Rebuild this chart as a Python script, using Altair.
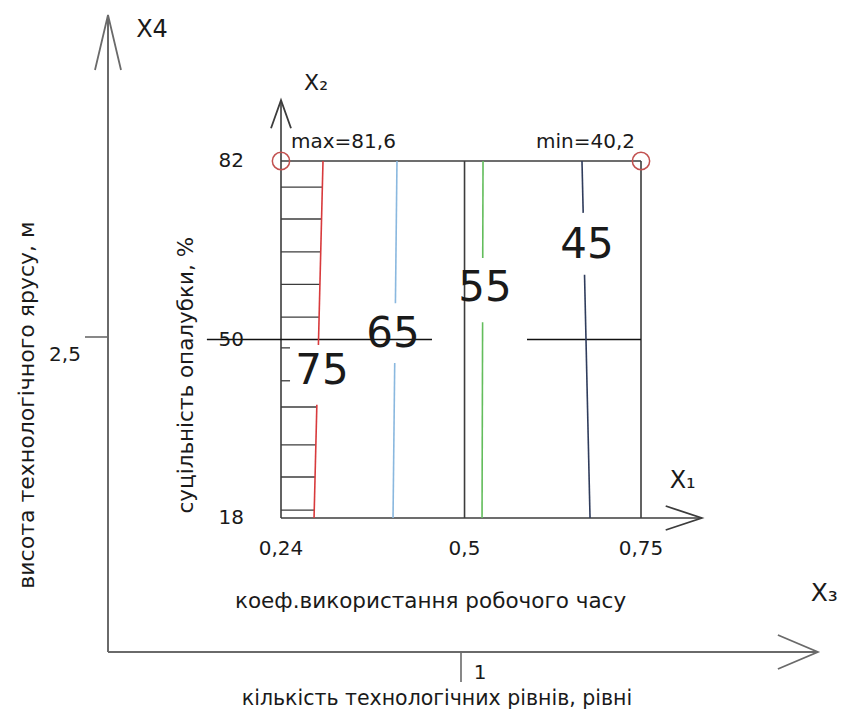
import altair as alt
import pandas as pd

# ---------------- values ----------------
# inner diagram: X1 - коеф. використання робочого часу, X2 - суцільність опалубки, %
x1_ticks = [0.24, 0.5, 0.75]
x1_tick_labels = ["0,24", "0,5", "0,75"]
x2_ticks = [18, 50, 82]
x2_tick_labels = ["18", "50", "82"]
x1_arrow_tip = 0.836
x2_arrow_tip = 92.9

levels = ["75", "65", "55", "45"]
level_colors = ["#d83a3c", "#8ab8df", "#63bd5c", "#2f3c5c"]
c_x1_bottom = [0.2868, 0.3987, 0.5248, 0.6778]   # at X2 = 18
c_x2_gap_lo = [38.3, 45.8, 53.1, 61.6]
c_x1_gap_lo = [0.2908, 0.4011, 0.5256, 0.6700]
c_x2_gap_hi = [49.0, 56.5, 64.6, 72.7]
c_x1_gap_hi = [0.2930, 0.4021, 0.5258, 0.6681]
c_x1_top = [0.2995, 0.4043, 0.5262, 0.6664]      # at X2 = 82
c_label_x1 = [0.2981, 0.3987, 0.5290, 0.6735]
c_label_x2 = [44.4, 51.0, 59.2, 66.9]

hatch_x2 = [77.3, 71.6, 65.7, 59.9, 54.0, 48.5, 42.6, 37.9, 31.1, 25.35, 19.4]
hatch_x1_end = [0.2986, 0.2974, 0.2963, 0.2951, 0.2939, 0.2528, 0.2528,
                0.2907, 0.2894, 0.2883, 0.2871]

level50_x1_from = [0.135, 0.5885]
level50_x1_to = [0.4539, 0.75]

extreme_x1 = [0.24, 0.75]
extreme_x2 = [82, 82]
extreme_labels = ["max=81,6", "min=40,2"]

inner_title_x = "коеф.використання робочого часу"
inner_title_y = "суцільність опалубки, %"

# outer axes: X3 - кількість технологічних рівнів, X4 - висота технологічного ярусу, м
x3_tick = 1
x3_tick_label = "1"
x4_tick = 2.5
x4_tick_label = "2,5"
x3_arrow_tip = 2.011
x4_arrow_tip = 5.056
outer_title_x = "кількість технологічних рівнів, рівні"
outer_title_y = "висота технологічного ярусу, м"

# ---------------- scales ----------------
FONT = "DejaVu Sans"
TXT = "#1a1a1a"
LINE = "#3c3c3c"
AX = "#6a6a6a"

in_x = alt.Scale(domain=[-0.14675, 1.03333], nice=False, zero=False)
in_y = alt.Scale(domain=[-16.60, 109.43], nice=False, zero=False)
out_x = alt.Scale(domain=[-0.28329, 2.07649], nice=False, zero=False)
out_y = alt.Scale(domain=[-0.46825, 5.1111], nice=False, zero=False)


def enc(sx, sy, x="x", y="y", x2=None, y2=None):
    e = dict(x=alt.X(f"{x}:Q", scale=sx, axis=None),
             y=alt.Y(f"{y}:Q", scale=sy, axis=None))
    if x2:
        e["x2"] = alt.X2(x2)
    if y2:
        e["y2"] = alt.Y2(y2)
    return e


def texts(df, sx, sy, **mk):
    base = dict(font=FONT, color=TXT, baseline="middle")
    base.update(mk)
    return alt.Chart(df).mark_text(**base).encode(text="t:N", **enc(sx, sy))


def arrow(x, y, sx, sy, length, half, angle, col):
    h = 2 * half / length
    path = f"M{-h:.3f},2L0,0L{h:.3f},2"
    return alt.Chart(pd.DataFrame({"x": [x], "y": [y]})).mark_point(
        shape=path, filled=False, size=length ** 2, angle=angle,
        color=col, strokeWidth=1.8, opacity=1
    ).encode(**enc(sx, sy))


# ---------------- inner diagram ----------------
frame = pd.DataFrame({
    "x": [x1_ticks[0], x1_ticks[0], x1_ticks[0], x1_ticks[2], x1_ticks[1]],
    "x2": [x1_ticks[0], x1_arrow_tip, x1_ticks[2], x1_ticks[2], x1_ticks[1]],
    "y": [x2_ticks[0], x2_ticks[0], x2_ticks[2], x2_ticks[0], x2_ticks[0]],
    "y2": [x2_arrow_tip, x2_ticks[0], x2_ticks[2], x2_ticks[2], x2_ticks[2]],
})
frame_l = alt.Chart(frame).mark_rule(color=LINE, strokeWidth=1.6).encode(
    **enc(in_x, in_y, x2="x2", y2="y2"))

mid = pd.DataFrame({"x": level50_x1_from, "x2": level50_x1_to,
                    "y": [x2_ticks[1]] * 2, "y2": [x2_ticks[1]] * 2})
mid_l = alt.Chart(mid).mark_rule(color="#111111", strokeWidth=1.6).encode(
    **enc(in_x, in_y, x2="x2", y2="y2"))

hatch = pd.DataFrame({"x": [x1_ticks[0]] * len(hatch_x2), "x2": hatch_x1_end,
                      "y": hatch_x2, "y2": hatch_x2})
hatch_l = alt.Chart(hatch).mark_rule(color=LINE, strokeWidth=1.3).encode(
    **enc(in_x, in_y, x2="x2", y2="y2"))

rows = []
for i, lv in enumerate(levels):
    rows.append(dict(level=lv, x=c_x1_bottom[i], y=x2_ticks[0], x2=c_x1_gap_lo[i], y2=c_x2_gap_lo[i]))
    rows.append(dict(level=lv, x=c_x1_gap_hi[i], y=c_x2_gap_hi[i], x2=c_x1_top[i], y2=x2_ticks[2]))
cont = pd.DataFrame(rows)
cont_l = alt.Chart(cont).mark_rule(strokeWidth=1.6).encode(
    color=alt.Color("level:N", scale=alt.Scale(domain=levels, range=level_colors), legend=None),
    **enc(in_x, in_y, x2="x2", y2="y2"))

clab = pd.DataFrame({"x": c_label_x1, "y": c_label_x2, "t": levels})
clab_l = texts(clab, in_x, in_y, fontSize=42, align="center")

xt = pd.DataFrame({"x": x1_ticks, "y": [x2_ticks[0]] * 3, "t": x1_tick_labels})
xt_l = texts(xt, in_x, in_y, fontSize=20, align="center", dy=31)
yt = pd.DataFrame({"x": [x1_ticks[0]] * 3, "y": x2_ticks, "t": x2_tick_labels})
yt_l = texts(yt, in_x, in_y, fontSize=20, align="right", dx=-37)

circ = pd.DataFrame({"x": extreme_x1, "y": extreme_x2})
circ_l = alt.Chart(circ).mark_point(shape="circle", filled=False, size=300,
                                    color="#c2504f", strokeWidth=1.5, opacity=1).encode(**enc(in_x, in_y))
ext_l1 = texts(pd.DataFrame({"x": [extreme_x1[0]], "y": [extreme_x2[0]], "t": [extreme_labels[0]]}),
               in_x, in_y, fontSize=20, align="left", dx=10, dy=-19)
ext_l2 = texts(pd.DataFrame({"x": [extreme_x1[1]], "y": [extreme_x2[1]], "t": [extreme_labels[1]]}),
               in_x, in_y, fontSize=20, align="right", dx=-6, dy=-19)

x2name = texts(pd.DataFrame({"x": [x1_ticks[0]], "y": [x2_arrow_tip], "t": ["X₂"]}),
               in_x, in_y, fontSize=22, align="center", dx=35, dy=-17)
x1name = texts(pd.DataFrame({"x": [x1_arrow_tip], "y": [x2_ticks[0]], "t": ["X₁"]}),
               in_x, in_y, fontSize=24, align="center", dx=-19, dy=-37)
ititle_x = texts(pd.DataFrame({"x": [x1_ticks[1]], "y": [x2_ticks[0]], "t": [inner_title_x]}),
                 in_x, in_y, fontSize=21.5, align="center", dx=-34, dy=84)
ititle_y = texts(pd.DataFrame({"x": [0.107], "y": [43.6], "t": [inner_title_y]}),
                 in_x, in_y, fontSize=21.5, align="center", angle=270)

inner = alt.layer(
    hatch_l, frame_l, mid_l, cont_l, circ_l,
    arrow(x1_ticks[0], x2_arrow_tip, in_x, in_y, 28, 10, 0, LINE),
    arrow(x1_arrow_tip, x2_ticks[0], in_x, in_y, 36, 12, 90, LINE),
    clab_l, xt_l, yt_l, ext_l1, ext_l2, x2name, x1name, ititle_x, ititle_y,
)

# ---------------- outer axes ----------------
oax = pd.DataFrame({"x": [0, 0], "x2": [0, x3_arrow_tip], "y": [0, 0], "y2": [x4_arrow_tip, 0]})
oax_l = alt.Chart(oax).mark_rule(color=AX, strokeWidth=2).encode(**enc(out_x, out_y, x2="x2", y2="y2"))
tick3 = alt.Chart(pd.DataFrame({"x": [x3_tick], "y": [0]})).mark_tick(
    orient="vertical", size=30, thickness=1.6, yOffset=15, color=AX, opacity=1).encode(**enc(out_x, out_y))
tick4 = alt.Chart(pd.DataFrame({"x": [0], "y": [x4_tick]})).mark_tick(
    orient="horizontal", size=23, thickness=1.6, xOffset=-11.5, color=AX, opacity=1).encode(**enc(out_x, out_y))

o_t3 = texts(pd.DataFrame({"x": [x3_tick], "y": [0], "t": [x3_tick_label]}),
             out_x, out_y, fontSize=20, align="center", dx=19, dy=21)
o_t4 = texts(pd.DataFrame({"x": [0], "y": [x4_tick], "t": [x4_tick_label]}),
             out_x, out_y, fontSize=20, align="center", dx=-43, dy=18)
x4name = texts(pd.DataFrame({"x": [0], "y": [x4_arrow_tip], "t": ["X4"]}),
               out_x, out_y, fontSize=24, align="center", dx=44, dy=15)
x3name = texts(pd.DataFrame({"x": [x3_arrow_tip], "y": [0], "t": ["X₃"]}),
               out_x, out_y, fontSize=25, align="right", dx=20, dy=-59)
otitle_x = texts(pd.DataFrame({"x": [x3_tick], "y": [0], "t": [outer_title_x]}),
                 out_x, out_y, fontSize=20.5, align="center", dx=-24, dy=47)
otitle_y = texts(pd.DataFrame({"x": [-0.2295], "y": [1.96], "t": [outer_title_y]}),
                 out_x, out_y, fontSize=22, align="center", angle=270)

outer = alt.layer(
    oax_l, tick3, tick4,
    arrow(0, x4_arrow_tip, out_x, out_y, 55, 13, 0, AX),
    arrow(x3_arrow_tip, 0, out_x, out_y, 40, 17, 90, AX),
    o_t3, o_t4, x4name, x3name, otitle_x, otitle_y,
)

chart = alt.layer(inner, outer).resolve_scale(x="independent", y="independent").properties(
    width=833, height=703, padding=0, autosize=alt.AutoSizeParams(type="none"),
    background="white",
).configure_view(stroke=None)

chart.save("out.html", embed_options={"renderer": "svg", "actions": False})
